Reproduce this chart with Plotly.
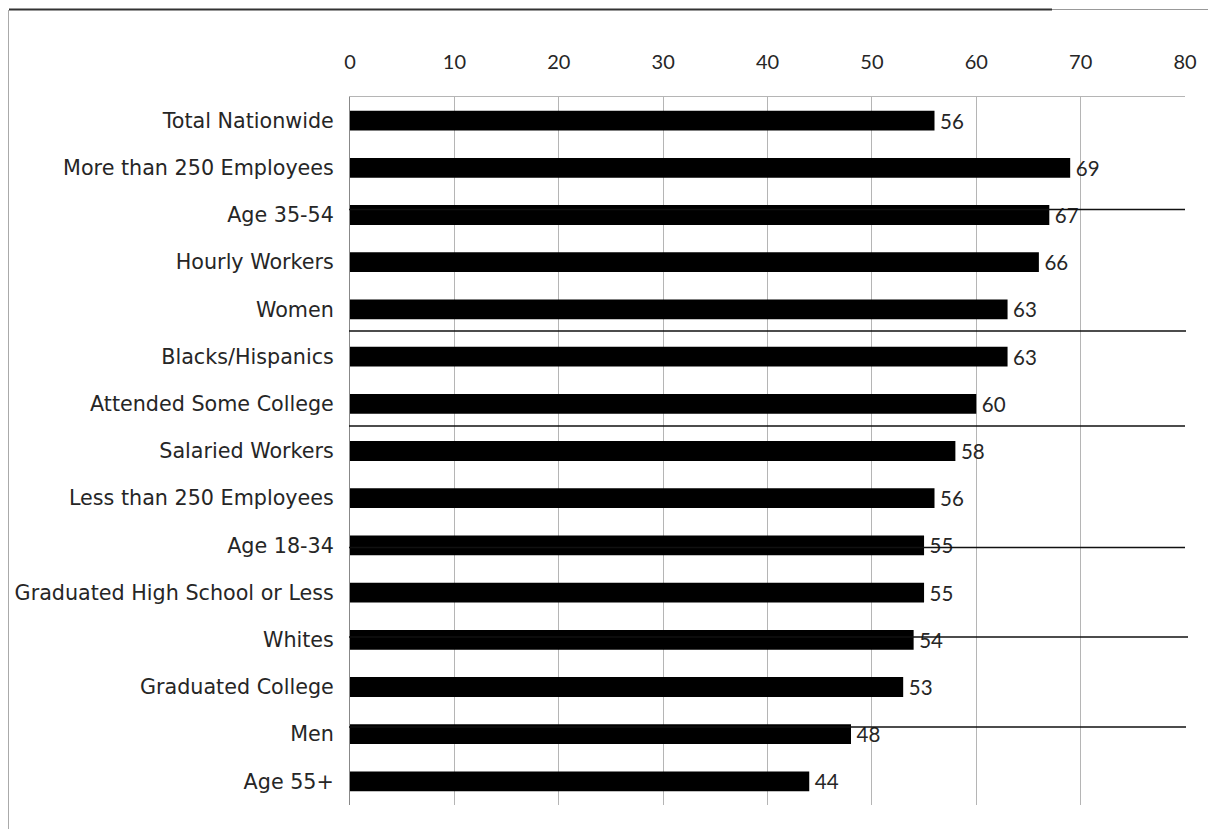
import plotly.graph_objects as go

categories = [
    "Total Nationwide", "More than 250 Employees", "Age 35-54", "Hourly Workers",
    "Women", "Blacks/Hispanics", "Attended Some College", "Salaried Workers",
    "Less than 250 Employees", "Age 18-34", "Graduated High School or Less",
    "Whites", "Graduated College", "Men", "Age 55+",
]
values = [56, 69, 67, 66, 63, 63, 60, 58, 56, 55, 55, 54, 53, 48, 44]
tick_vals = [0, 10, 20, 30, 40, 50, 60, 70, 80]

W, H = 1216, 829
OFF = 8  # page body offset
L, R, T, B = 350 - OFF, 1185 - OFF, 97 - OFF, 805 - OFF

def px(x):
    return (x - OFF - L) / (R - L)

def py(y):
    return (B - (y - OFF)) / (B - T)

LABEL_FONT = "DejaVu Sans, sans-serif"
NUM_FONT = "Lato, sans-serif"
TXT = "#262626"

fig = go.Figure(go.Bar(
    x=values, y=categories, orientation="h",
    marker=dict(color="black", line=dict(width=0)),
    text=values, texttemplate="\u2009%{x}", textposition="outside",
    textfont=dict(family=NUM_FONT, size=20.5, color=TXT),
    constraintext="none",
    cliponaxis=False, width=0.42,
))

shapes = []
# separator lines seen in the reference
for y, x1 in [(209.5, 1185), (331, 1186), (426, 1185), (547.5, 1185), (637, 1188), (727, 1186)]:
    shapes.append(dict(type="line", xref="paper", yref="paper", x0=px(349), x1=px(x1),
                       y0=py(y), y1=py(y), line=dict(color="#111", width=1.3), layer="above"))
# outer frame lines
shapes.append(dict(type="line", xref="paper", yref="paper", x0=px(9), x1=px(1052),
                   y0=py(9.5), y1=py(9.5), line=dict(color="#333", width=2)))
shapes.append(dict(type="line", xref="paper", yref="paper", x0=px(1052), x1=px(1216),
                   y0=py(9.5), y1=py(9.5), line=dict(color="#999", width=1)))
shapes.append(dict(type="line", xref="paper", yref="paper", x0=px(8.5), x1=px(8.5),
                   y0=py(10), y1=py(829), line=dict(color="#aaa", width=1)))

fig.update_layout(
    width=W, height=H,
    margin=dict(l=L, r=W - R, t=T, b=H - B, autoexpand=False),
    plot_bgcolor="white", paper_bgcolor="white",
    showlegend=False,
    font=dict(family=LABEL_FONT, size=20, color=TXT),
    shapes=shapes,
    xaxis=dict(
        side="top", range=[0, 80], tickvals=tick_vals, ticktext=[str(v) for v in tick_vals],
        showgrid=True, gridcolor="#b5b5b5", gridwidth=1,
        showline=True, linecolor="#b5b5b5", linewidth=1,
        zeroline=False, ticks="", ticklabelstandoff=19, automargin=False,
        tickfont=dict(family=NUM_FONT, size=20, color=TXT),
        fixedrange=True,
    ),
    yaxis=dict(
        autorange="reversed", showgrid=False, zeroline=False,
        showline=True, linecolor="#888", linewidth=1,
        ticks="", ticklabelstandoff=11, automargin=False,
        tickfont=dict(family=LABEL_FONT, size=20.7, color=TXT),
        fixedrange=True,
    ),
)

fig.write_html("out.html")
